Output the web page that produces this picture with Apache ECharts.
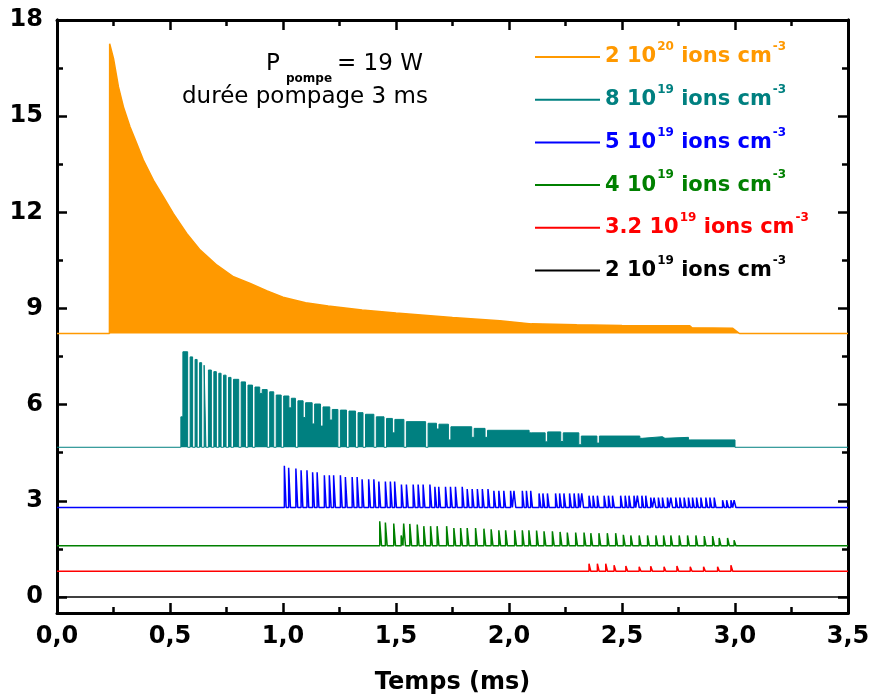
<!DOCTYPE html>
<html>
<head>
<meta charset="utf-8">
<script src="https://cdn.jsdelivr.net/npm/echarts@6/dist/echarts.min.js"></script>
<style>html,body{margin:0;padding:0;background:#fff}#c{width:870px;height:696px}</style>
</head>
<body>
<div id="c"></div>
<script>
// ---------- data ----------
const xTicks = [0, 0.5, 1, 1.5, 2, 2.5, 3, 3.5];
const xTickLabels = ['0,0', '0,5', '1,0', '1,5', '2,0', '2,5', '3,0', '3,5'];
const yTicks = [0, 3, 6, 9, 12, 15, 18];
const yMinorTicks = [1.5, 4.5, 7.5, 10.5, 13.5, 16.5];

const seriesNames = ['2 10^20 ions cm^-3', '8 10^19 ions cm^-3', '5 10^19 ions cm^-3',
                     '4 10^19 ions cm^-3', '3.2 10^19 ions cm^-3', '2 10^19 ions cm^-3'];
const legendMant = ['2 10', '8 10', '5 10', '4 10', '3.2 10', '2 10'];
const legendExp = ['20', '19', '19', '19', '19', '19'];
const seriesColors = ['#FF9900', '#008080', '#0000FF', '#008000', '#FF0000', '#000000'];

const annotPower = ['P', 'pompe', '= 19 W'];
const annotDuration = 'durée pompage 3 ms';
const axisTitle = 'Temps (ms)';

// 2e20 : filled envelope above baseline
const orangeBase = 8.22;
const orangeT   = [0, 0.232, 0.233, 0.25, 0.272, 0.294, 0.323, 0.353, 0.382, 0.427, 0.471, 0.515, 0.574, 0.634, 0.708, 0.781, 0.855, 0.93, 1.0, 1.1, 1.2, 1.35, 1.5, 1.75, 1.96, 2.1, 2.3, 2.5, 2.8, 2.81, 2.99, 3.02, 3.5];
const orangeTop = [8.22, 8.22, 17.26, 16.8, 15.91, 15.29, 14.67, 14.15, 13.63, 13.0, 12.48, 11.96, 11.34, 10.82, 10.35, 9.99, 9.78, 9.55, 9.35, 9.18, 9.08, 8.95, 8.86, 8.72, 8.62, 8.52, 8.49, 8.47, 8.46, 8.40, 8.38, 8.22, 8.22];

// 8e19 : pulses (start time, peak, level reached before next pulse)
const tealBase = 4.67;
const tealEnd = 3.0;
const tealT = [0.548, 0.557, 0.589, 0.611, 0.631, 0.651, 0.670, 0.694, 0.716, 0.737, 0.759, 0.781, 0.815, 0.845, 0.876, 0.908, 0.941, 0.970, 1.003, 1.037, 1.066, 1.100, 1.140, 1.177, 1.218, 1.254, 1.292, 1.332, 1.365, 1.413, 1.458, 1.495, 1.546, 1.642, 1.690, 1.743, 1.846, 1.905, 2.100, 2.171, 2.240, 2.320, 2.400, 2.590, 2.690, 2.805];
const tealPeak = [5.62, 7.65, 7.49, 7.41, 7.31, 7.23, 7.08, 7.03, 6.98, 6.92, 6.85, 6.79, 6.71, 6.61, 6.55, 6.47, 6.40, 6.30, 6.27, 6.20, 6.12, 6.06, 6.02, 5.93, 5.85, 5.83, 5.80, 5.75, 5.70, 5.62, 5.57, 5.54, 5.47, 5.42, 5.39, 5.31, 5.26, 5.20, 5.12, 5.15, 5.12, 5.02, 5.02, 5.00, 4.98, 4.90];
const tealDip = [5.62, 4.67, 4.67, 4.67, 4.67, 4.67, 4.67, 4.67, 4.67, 4.67, 4.67, 4.67, 4.67, 4.67, 6.35, 4.67, 4.67, 4.67, 5.9, 4.67, 5.6, 5.4, 5.33, 5.52, 4.67, 4.67, 4.67, 4.67, 4.67, 4.67, 5.12, 4.67, 4.67, 5.24, 4.90, 4.98, 4.98, 5.12, 4.84, 4.85, 4.75, 4.80, 4.95, 4.95, 4.90, 4.67];

// 5e19 : spikes
const blueBase = 2.79;
const blueT = [1.006, 1.025, 1.057, 1.080, 1.106, 1.131, 1.151, 1.183, 1.205, 1.224, 1.254, 1.276, 1.306, 1.328, 1.350, 1.379, 1.402, 1.424, 1.453, 1.475, 1.494, 1.524, 1.546, 1.576, 1.598, 1.620, 1.650, 1.672, 1.689, 1.719, 1.741, 1.763, 1.793, 1.815, 1.837, 1.860, 1.882, 1.907, 1.933, 1.955, 1.977, 2.007, 2.022, 2.059, 2.077, 2.096, 2.133, 2.150, 2.170, 2.206, 2.224, 2.243, 2.268, 2.288, 2.307, 2.322, 2.354, 2.372, 2.391, 2.421, 2.440, 2.458, 2.494, 2.514, 2.531, 2.553, 2.568, 2.588, 2.605, 2.627, 2.642, 2.661, 2.679, 2.701, 2.716, 2.738, 2.756, 2.775, 2.794, 2.812, 2.830, 2.849, 2.871, 2.889, 2.908, 2.945, 2.963, 2.982, 2.996];
const bluePeak = [4.09, 4.03, 4.01, 3.95, 3.95, 3.89, 3.89, 3.80, 3.80, 3.80, 3.80, 3.74, 3.74, 3.74, 3.67, 3.67, 3.67, 3.60, 3.60, 3.60, 3.60, 3.51, 3.51, 3.51, 3.51, 3.51, 3.51, 3.44, 3.44, 3.44, 3.44, 3.44, 3.44, 3.37, 3.37, 3.37, 3.37, 3.37, 3.31, 3.31, 3.31, 3.31, 3.31, 3.31, 3.31, 3.31, 3.23, 3.23, 3.23, 3.23, 3.23, 3.23, 3.23, 3.23, 3.23, 3.23, 3.16, 3.16, 3.16, 3.16, 3.16, 3.16, 3.16, 3.16, 3.16, 3.16, 3.16, 3.16, 3.16, 3.10, 3.10, 3.10, 3.10, 3.10, 3.10, 3.10, 3.10, 3.10, 3.10, 3.10, 3.10, 3.10, 3.10, 3.10, 3.10, 3.02, 3.02, 3.02, 3.02];

// 4e19 : spikes
const greenBase = 1.60;
const greenT = [1.428, 1.453, 1.490, 1.523, 1.534, 1.561, 1.594, 1.623, 1.653, 1.682, 1.724, 1.756, 1.786, 1.815, 1.852, 1.889, 1.921, 1.955, 1.985, 2.025, 2.059, 2.088, 2.122, 2.155, 2.192, 2.226, 2.258, 2.295, 2.332, 2.362, 2.398, 2.435, 2.472, 2.506, 2.539, 2.576, 2.613, 2.650, 2.684, 2.716, 2.753, 2.790, 2.827, 2.864, 2.901, 2.930, 2.967, 2.996];
const greenPeak = [2.36, 2.32, 2.29, 1.92, 2.29, 2.28, 2.26, 2.21, 2.21, 2.21, 2.21, 2.15, 2.15, 2.15, 2.15, 2.13, 2.11, 2.08, 2.08, 2.08, 2.08, 2.08, 2.07, 2.05, 2.05, 2.03, 2.01, 2.01, 2.01, 1.99, 1.99, 1.99, 1.99, 1.94, 1.92, 1.92, 1.92, 1.92, 1.92, 1.92, 1.92, 1.92, 1.92, 1.90, 1.90, 1.84, 1.84, 1.77];

// 3.2e19 : spikes
const redBase = 0.80;
const redT = [2.354, 2.391, 2.428, 2.465, 2.517, 2.576, 2.627, 2.686, 2.743, 2.802, 2.861, 2.923, 2.982];
const redPeak = [1.04, 1.04, 1.04, 0.99, 0.97, 0.94, 0.96, 0.94, 0.97, 0.94, 0.94, 0.94, 0.99];

// 2e19 : flat
const blackT = [0, 3.5];
const blackV = [0, 0];

// ---------- build ----------
const X0 = xTicks[0], X1 = xTicks[xTicks.length - 1];
const SPIKE_W = 0.008, GAP = 0.011;
const FONT = '"DejaVu Sans", sans-serif';

function spikes(T, P, base) {
  const d = [[X0, base]];
  for (let i = 0; i < T.length; i++) {
    d.push([T[i], base], [T[i], P[i]], [T[i] + SPIKE_W, P[i]], [T[i] + SPIKE_W, base]);
  }
  d.push([X1, base]);
  return d;
}
function pulses(T, P, D, base, tEnd) {
  const d = [[X0, base], [T[0], base]];
  for (let i = 0; i < T.length; i++) {
    d.push([T[i], P[i]]);
    const last = i === T.length - 1;
    const next = last ? tEnd : T[i + 1];
    const e = last ? tEnd : Math.max(T[i], next - GAP);
    d.push([e, P[i]], [e, D[i]]);
    if (!last) d.push([next, D[i]]);
  }
  d.push([X1, base]);
  return d;
}

function lineSeries(idx, data, extra) {
  return Object.assign({
    name: seriesNames[idx], type: 'line', data: data, showSymbol: false, symbol: 'none',
    color: seriesColors[idx], lineStyle: { width: 1.5, color: seriesColors[idx] },
    animation: false, silent: true
  }, extra || {});
}

const series = [
  lineSeries(0, orangeT.map((t, i) => [t, orangeTop[i]]),
    { areaStyle: { color: seriesColors[0], opacity: 1, origin: orangeBase } }),
  lineSeries(1, pulses(tealT, tealPeak, tealDip, tealBase, tealEnd),
    { lineStyle: { width: 1, color: seriesColors[1] }, areaStyle: { color: seriesColors[1], opacity: 1, origin: tealBase } }),
  lineSeries(2, spikes(blueT, bluePeak, blueBase)),
  lineSeries(3, spikes(greenT, greenPeak, greenBase)),
  lineSeries(4, spikes(redT, redPeak, redBase)),
  lineSeries(5, blackT.map((t, i) => [t, blackV[i]]))
];

const axisLineStyle = { show: true, onZero: false, lineStyle: { color: '#000', width: 3 } };
function xAx(pos, labels) {
  return {
    type: 'value', position: pos, min: X0, max: X1, interval: xTicks[1] - xTicks[0],
    axisLine: axisLineStyle,
    axisTick: { show: true, inside: true, length: 10, lineStyle: { color: '#000', width: 2.5 } },
    minorTick: { show: true, splitNumber: 2, length: 6, lineStyle: { color: '#000', width: 2.5 } },
    splitLine: { show: false }, minorSplitLine: { show: false },
    axisLabel: labels ? {
      show: true, margin: 12, color: '#000', fontFamily: FONT, fontWeight: 'bold', fontSize: 24,
      showMaxLabel: true, showMinLabel: true,
      formatter: v => { const i = xTicks.findIndex(t => Math.abs(t - v) < 1e-6); return i >= 0 ? xTickLabels[i] : ''; }
    } : { show: false },
    name: labels ? axisTitle : '', nameLocation: 'middle', nameGap: 58,
    nameTextStyle: { color: '#000', fontFamily: FONT, fontWeight: 'bold', fontSize: 24 }
  };
}
function yAx(pos, vals, len, labels) {
  return {
    type: 'value', position: pos, min: -0.5, max: yTicks[yTicks.length - 1], offset: 0,
    axisLine: axisLineStyle,
    axisTick: { show: true, inside: true, length: len, customValues: vals, lineStyle: { color: '#000', width: 2.5 } },
    splitLine: { show: false },
    axisLabel: labels ? { show: true, customValues: vals, margin: 14, color: '#000', fontFamily: FONT, fontWeight: 'bold', fontSize: 24 } : { show: false }
  };
}

const option = {
  animation: false,
  backgroundColor: '#fff',
  grid: { left: 57, right: 22, top: 20, bottom: 83, containLabel: false, outerBoundsMode: 'none' },
  xAxis: [xAx('bottom', true), xAx('top', false)],
  yAxis: [yAx('left', yTicks, 10, true), yAx('left', yMinorTicks, 6, false),
          yAx('right', yTicks, 10, false), yAx('right', yMinorTicks, 6, false)],
  legend: {
    left: 530, top: 36, orient: 'vertical', icon: 'rect', itemWidth: 65, itemHeight: 2, itemGap: 16.2,
    selectedMode: false,
    data: seriesNames.map((n, i) => ({ name: n, textStyle: { color: seriesColors[i] } })),
    formatter: name => {
      const i = seriesNames.indexOf(name);
      return '{m|' + legendMant[i] + '}{e|' + legendExp[i] + '}{m| ions cm}{e|-3}';
    },
    textStyle: {
      fontFamily: FONT, fontWeight: 'bold', fontSize: 21,
      rich: {
        m: { fontFamily: FONT, fontWeight: 'bold', fontSize: 21, lineHeight: 32 },
        e: { fontFamily: FONT, fontWeight: 'bold', fontSize: 12, lineHeight: 12, verticalAlign: 'top', padding: [0, 0, 0, 1] }
      }
    }
  },
  graphic: [
    { type: 'text', x: 266, y: 64, style: { text: annotPower[0], font: '23px ' + FONT, fill: '#000', verticalAlign: 'middle' } },
    { type: 'text', x: 286, y: 79, style: { text: annotPower[1], font: 'bold 12px ' + FONT, fill: '#000', verticalAlign: 'middle' } },
    { type: 'text', x: 337, y: 64, style: { text: annotPower[2], font: '23px ' + FONT, fill: '#000', verticalAlign: 'middle' } },
    { type: 'text', x: 182, y: 97, style: { text: annotDuration, font: '23px ' + FONT, fill: '#000', verticalAlign: 'middle' } }
  ],
  series: series
};
const chart = echarts.init(document.getElementById('c'), null, { renderer: 'canvas' });
chart.setOption(option);
</script>
</body>
</html>
